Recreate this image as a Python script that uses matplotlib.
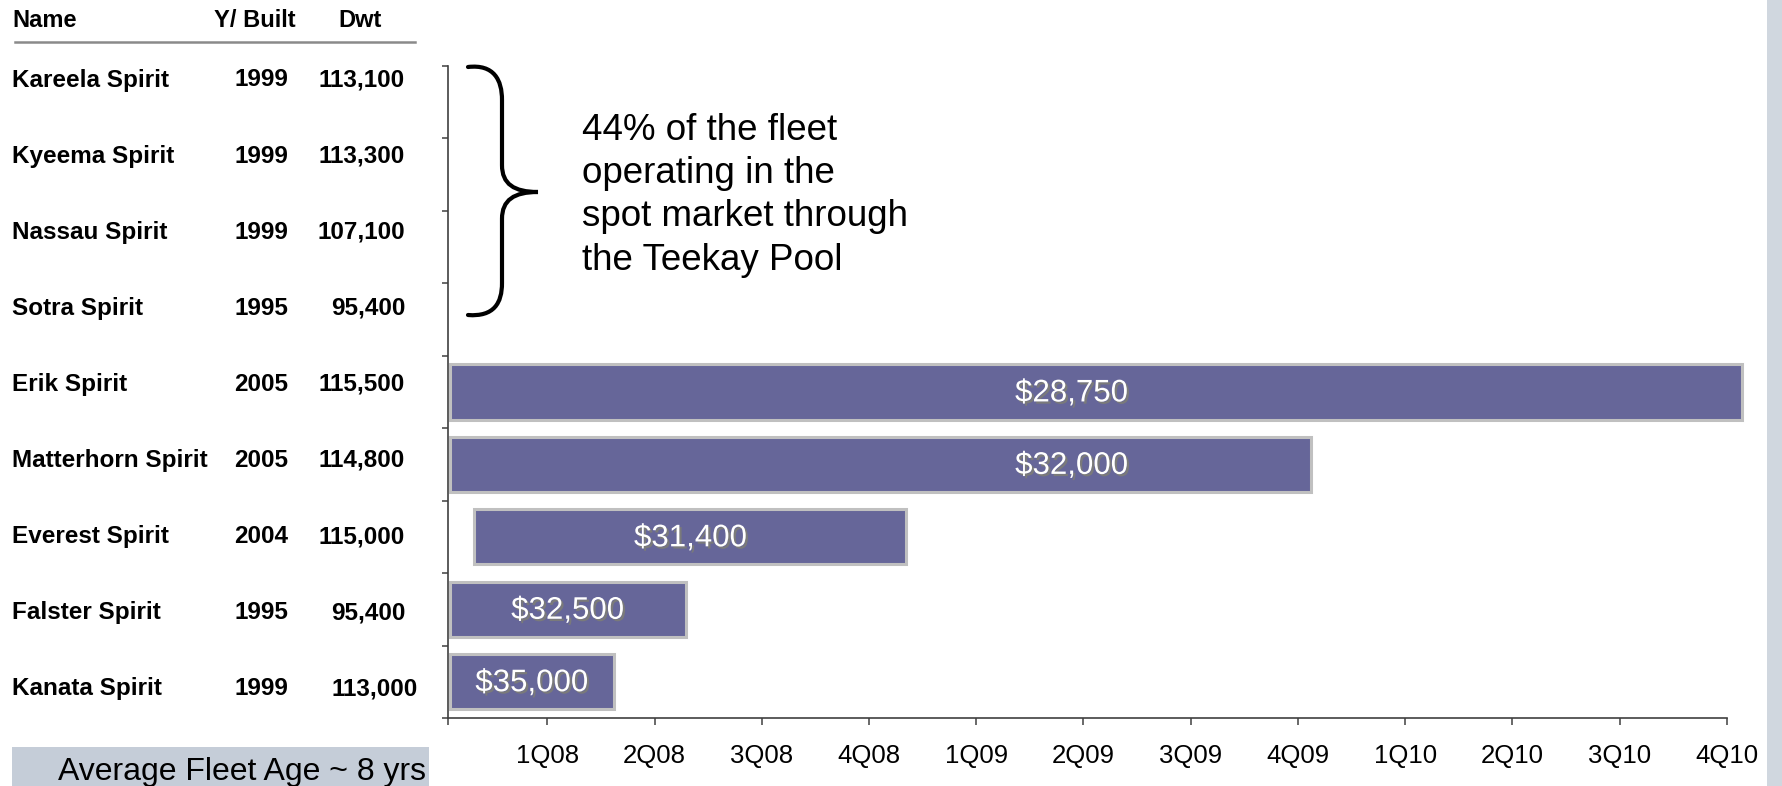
import matplotlib
matplotlib.use("Agg")
import matplotlib.pyplot as plt
import matplotlib.patheffects as pe
from matplotlib.path import Path
from matplotlib.patches import PathPatch, Rectangle
from matplotlib.transforms import Affine2D

# ---------------- data ----------------
ships = ["Kareela Spirit", "Kyeema Spirit", "Nassau Spirit", "Sotra Spirit",
         "Erik Spirit", "Matterhorn Spirit", "Everest Spirit", "Falster Spirit",
         "Kanata Spirit"]
year_built = [1999, 1999, 1999, 1995, 2005, 2005, 2004, 1995, 1999]
dwt = [113100, 113300, 107100, 95400, 115500, 114800, 115000, 95400, 113000]

charter_ships = ["Erik Spirit", "Matterhorn Spirit", "Everest Spirit",
                 "Falster Spirit", "Kanata Spirit"]
charter_rates = [28750, 32000, 31400, 32500, 35000]
# charter period in quarter units (1 = 1Q08 ... 12 = 4Q10)
charter_start = [0.09, 0.09, 0.32, 0.09, 0.09]
charter_end = [12.14, 8.12, 4.35, 2.29, 1.62]

quarters = ["1Q08", "2Q08", "3Q08", "4Q08", "1Q09", "2Q09", "3Q09", "4Q09",
            "1Q10", "2Q10", "3Q10", "4Q10"]

header = ["Name", "Y/ Built", "Dwt"]
note_lines = ["44% of the fleet", "operating in the",
              "spot market through", "the Teekay Pool"]
footer = "Average Fleet Age ~ 8 yrs"

# ---------------- figure ----------------
W, H = 1782, 786
DPI = 100
plt.rcParams['font.family'] = ['Liberation Sans', 'DejaVu Sans']
fig = plt.figure(figsize=(W / DPI, H / DPI), dpi=DPI)
fig.patch.set_facecolor('white')

# pixel transform (origin top-left)
pxT = Affine2D().scale(1.0 / W, -1.0 / H).translate(0, 1) + fig.transFigure

# right decorative strip
fig.patches.append(Rectangle((1767, 0), W - 1767, H, transform=pxT,
                             facecolor='#D0D7DF', edgecolor='none', zorder=0))

# ---------------- bar chart axes ----------------
ax_l, ax_r, ax_t, ax_b = 448.3, 1726.8, 66.0, 718.0
ax = fig.add_axes([ax_l / W, 1 - ax_b / H, (ax_r - ax_l) / W, (ax_b - ax_t) / H])
ax.set_facecolor('none')

n = len(ships)
ypos = [ships.index(s) for s in charter_ships]
widths = [e - s for s, e in zip(charter_start, charter_end)]
ax.barh(ypos, widths, left=charter_start, height=0.76, color='#666699',
        edgecolor='#C0C0C0', linewidth=2.2, clip_on=False, zorder=2)

label_anchor = 5.89
for y, s, e, r in zip(ypos, charter_start, charter_end, charter_rates):
    x = label_anchor if e > 6 else (s + e) / 2
    ax.text(x, y + 0.02, f"${r:,}", ha='center', va='center', color='white',
            fontsize=22.5, zorder=3,
            path_effects=[pe.SimplePatchShadow(offset=(1.6, -1.6),
                                               shadow_rgbFace='#7a7a7a', alpha=1.0),
                          pe.Normal()])

x0 = 0.077
ax.set_xlim(x0, 12)
ax.set_ylim(n - 0.5, -0.5)
ax.set_xticks([x0] + list(range(1, 13)))
ax.set_xticklabels([""] + quarters, fontsize=18.5)
ax.set_yticks([i - 0.5 for i in range(n + 1)])
ax.set_yticklabels([])
ax.tick_params(axis='x', direction='out', length=5, width=1.1, color='#404040',
               pad=13.5)
ax.tick_params(axis='y', direction='out', length=4.3, width=1.1, color='#404040')
for sp in ('top', 'right'):
    ax.spines[sp].set_visible(False)
for sp in ('left', 'bottom'):
    ax.spines[sp].set_color('#404040')
    ax.spines[sp].set_linewidth(1.2)

# ---------------- table on the left ----------------
def ftext(x, y, s, **kw):
    fig.text(x, y, s, transform=pxT, **kw)

ftext(12, 26.7, header[0], ha='left', va='baseline', fontsize=17, fontweight='bold')
ftext(255, 26.7, header[1], ha='center', va='baseline', fontsize=17, fontweight='bold')
ftext(360, 26.7, header[2], ha='center', va='baseline', fontsize=17, fontweight='bold')
fig.lines.append(plt.Line2D([15, 415], [41.7, 41.7], transform=pxT,
                            color='#8a8a8a', linewidth=1.8))

for i, (nm, yb, dw) in enumerate(zip(ships, year_built, dwt)):
    base = 86.5 + 76.1 * i
    ftext(12, base, nm, ha='left', va='baseline', fontsize=17.5, fontweight='bold')
    ftext(288, base, str(yb), ha='right', va='baseline', fontsize=17.5,
          fontweight='bold')
    xr = 418 if i == n - 1 else 405
    ftext(xr, base, f"{dw:,}", ha='right', va='baseline', fontsize=17.5,
          fontweight='bold')

# ---------------- brace + note ----------------
verts = [(468, 67), (494, 64), (502, 80), (502, 100),
         (502, 165),
         (502, 184), (514, 192), (538, 192),
         (514, 192), (502, 200), (502, 219),
         (502, 283),
         (502, 303), (494, 317), (468, 315)]
codes = [Path.MOVETO, Path.CURVE4, Path.CURVE4, Path.CURVE4,
         Path.LINETO,
         Path.CURVE4, Path.CURVE4, Path.CURVE4,
         Path.CURVE4, Path.CURVE4, Path.CURVE4,
         Path.LINETO,
         Path.CURVE4, Path.CURVE4, Path.CURVE4]
fig.patches.append(PathPatch(Path(verts, codes), transform=pxT, facecolor='none',
                             edgecolor='black', linewidth=3.0, capstyle='round'))

for k, line in enumerate(note_lines):
    ftext(582, 139.5 + 43.5 * k, line, ha='left', va='baseline', fontsize=26.5)

# ---------------- footer box ----------------
fig.patches.append(Rectangle((11.7, 746.7), 429.3 - 11.7, 786 - 746.7 + 2,
                             transform=pxT, facecolor='#C5CDD8', edgecolor='none'))
ftext(426, 780, footer, ha='right', va='baseline', fontsize=23)

fig.savefig("out.png", dpi=DPI, facecolor='white')
